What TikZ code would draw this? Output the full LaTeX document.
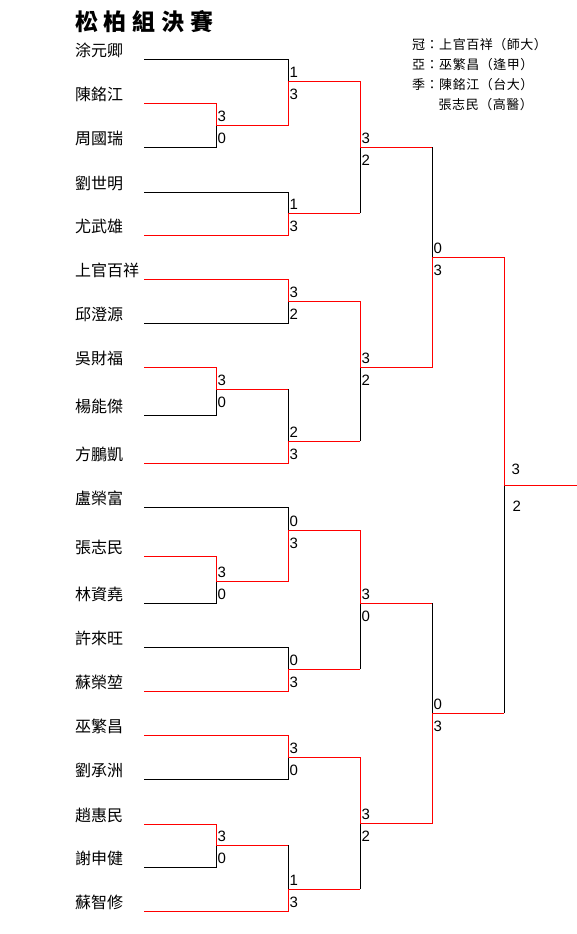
\documentclass[tikz,border=0pt]{standalone}
\usepackage{fontspec}
\usetikzlibrary{positioning}
\newfontfamily\namefont{Noto Sans CJK TC}
\newfontfamily\titlefont[LetterSpace=25]{Noto Sans CJK TC}
\newfontfamily\resultfont[LetterSpace=4]{Noto Sans CJK TC}
\newfontfamily\scorefont{Liberation Sans}
\definecolor{WinRed}{HTML}{FF0000}

\begin{document}
\begin{tikzpicture}[x=1pt, y=-1pt,
  player/.style={anchor=south west, inner sep=0pt, text width=69pt, align=left,
    text height=12pt, text depth=2.4pt, font={\namefont\fontsize{16pt}{16pt}\selectfont}},
  winline/.style={draw=WinRed, line width=0.9pt},
  lossline/.style={draw=black, line width=0.9pt},
  score/.style={inner sep=0pt, anchor=base west, font={\scorefont\fontsize{15pt}{15pt}\selectfont}},
  sctop/.style={score, xshift=1.5pt, yshift=3.5pt},
  scbot/.style={score, xshift=1.5pt, yshift=-18.5pt}
]
  \useasboundingbox (0,0) rectangle (577,934);

  \node[anchor=west, inner sep=0pt, font={\titlefont\bfseries\fontsize{23pt}{23pt}\selectfont}]
    (title) at (75,22) {松柏組決賽};
  \node[anchor=north west, inner sep=0pt, align=left,
    font={\resultfont\fontsize{13pt}{20pt}\selectfont}] (result) at (412,38.5)
    {冠：上官百祥（師大）\\亞：巫繁昌（逢甲）\\季：陳銘江（台大）\\\hphantom{季：}張志民（高醫）};

  % players
  \node[player] (p1)  at (75,59)  {涂元卿};
  \node[player] (p2)  at (75,103) {陳銘江};
  \node[player] (p3)  at (75,147) {周國瑞};
  \node[player] (p4)  at (75,192) {劉世明};
  \node[player] (p5)  at (75,235) {尤武雄};
  \node[player] (p6)  at (75,279) {上官百祥};
  \node[player] (p7)  at (75,323) {邱澄源};
  \node[player] (p8)  at (75,367) {吳財福};
  \node[player] (p9)  at (75,415) {楊能傑};
  \node[player] (p10) at (75,463) {方鵬凱};
  \node[player] (p11) at (75,507) {盧榮富};
  \node[player] (p12) at (75,556) {張志民};
  \node[player] (p13) at (75,603) {林資堯};
  \node[player] (p14) at (75,647) {許來旺};
  \node[player] (p15) at (75,691) {蘇榮堃};
  \node[player] (p16) at (75,735) {巫繁昌};
  \node[player] (p17) at (75,779) {劉承洲};
  \node[player] (p18) at (75,824) {趙惠民};
  \node[player] (p19) at (75,867) {謝申健};
  \node[player] (p20) at (75,911) {蘇智修};

  % match points
  \coordinate (a1)  at (216,125);
  \coordinate (a2)  at (288,81);
  \coordinate (a3)  at (288,213);
  \coordinate (a4)  at (288,301);
  \coordinate (a5)  at (216,389);
  \coordinate (a6)  at (288,441);
  \coordinate (a7)  at (216,581);
  \coordinate (a8)  at (288,530);
  \coordinate (a9)  at (288,669);
  \coordinate (a10) at (288,757);
  \coordinate (a11) at (216,845);
  \coordinate (a12) at (288,889);
  \coordinate (b1)  at (360,147);
  \coordinate (b2)  at (360,367);
  \coordinate (b3)  at (360,603);
  \coordinate (b4)  at (360,823);
  \coordinate (c1)  at (432,257);
  \coordinate (c2)  at (432,713);
  \coordinate (fin) at (504,485);
  \coordinate (champ) at (577,485);

  % first rounds
  \draw[winline]  (p2.south east) -| (a1);
  \draw[lossline] (p3.south east) -| (a1);
  \draw[lossline] (p1.south east) -| (a2);
  \draw[winline]  (a1) -| (a2);
  \draw[lossline] (p4.south east) -| (a3);
  \draw[winline]  (p5.south east) -| (a3);
  \draw[winline]  (p6.south east) -| (a4);
  \draw[lossline] (p7.south east) -| (a4);
  \draw[winline]  (p8.south east) -| (a5);
  \draw[lossline] (p9.south east) -| (a5);
  \draw[winline]  (a5) -- (a5 -| a6);
  \draw[lossline] (a5 -| a6) -- (a6);
  \draw[winline]  (p10.south east) -| (a6);
  \draw[winline]  (p12.south east) -| (a7);
  \draw[lossline] (p13.south east) -| (a7);
  \draw[lossline] (p11.south east) -| (a8);
  \draw[winline]  (a7) -| (a8);
  \draw[lossline] (p14.south east) -| (a9);
  \draw[winline]  (p15.south east) -| (a9);
  \draw[winline]  (p16.south east) -| (a10);
  \draw[lossline] (p17.south east) -| (a10);
  \draw[winline]  (p18.south east) -| (a11);
  \draw[lossline] (p19.south east) -| (a11);
  \draw[winline]  (a11) -- (a11 -| a12);
  \draw[lossline] (a11 -| a12) -- (a12);
  \draw[winline]  (p20.south east) -| (a12);

  % quarter finals
  \draw[winline]  (a2) -| (b1);
  \draw[winline]  (a3) -- (a3 -| b1);
  \draw[lossline] (a3 -| b1) -- (b1);
  \draw[winline]  (a4) -| (b2);
  \draw[winline]  (a6) -- (a6 -| b2);
  \draw[lossline] (a6 -| b2) -- (b2);
  \draw[winline]  (a8) -| (b3);
  \draw[winline]  (a9) -- (a9 -| b3);
  \draw[lossline] (a9 -| b3) -- (b3);
  \draw[winline]  (a10) -| (b4);
  \draw[winline]  (a12) -- (a12 -| b4);
  \draw[lossline] (a12 -| b4) -- (b4);

  % semi finals and final
  \draw[winline]  (b1) -- (b1 -| c1);
  \draw[lossline] (b1 -| c1) -- (c1);
  \draw[winline]  (b2) -| (c1);
  \draw[winline]  (b3) -- (b3 -| c2);
  \draw[lossline] (b3 -| c2) -- (c2);
  \draw[winline]  (b4) -| (c2);
  \draw[winline]  (c1) -| (fin);
  \draw[winline]  (c2) -- (c2 -| fin);
  \draw[lossline] (c2 -| fin) -- (fin);
  \draw[winline]  (fin) -- (champ);

  % scores
  \node[sctop] (a1t)  at (a1)  {3};  \node[scbot] (a1b)  at (a1)  {0};
  \node[sctop] (a2t)  at (a2)  {1};  \node[scbot] (a2b)  at (a2)  {3};
  \node[sctop] (a3t)  at (a3)  {1};  \node[scbot] (a3b)  at (a3)  {3};
  \node[sctop] (a4t)  at (a4)  {3};  \node[scbot] (a4b)  at (a4)  {2};
  \node[sctop] (a5t)  at (a5)  {3};  \node[scbot] (a5b)  at (a5)  {0};
  \node[sctop] (a6t)  at (a6)  {2};  \node[scbot] (a6b)  at (a6)  {3};
  \node[sctop] (a7t)  at (a7)  {3};  \node[scbot] (a7b)  at (a7)  {0};
  \node[sctop] (a8t)  at (a8)  {0};  \node[scbot] (a8b)  at (a8)  {3};
  \node[sctop] (a9t)  at (a9)  {0};  \node[scbot] (a9b)  at (a9)  {3};
  \node[sctop] (a10t) at (a10) {3};  \node[scbot] (a10b) at (a10) {0};
  \node[sctop] (a11t) at (a11) {3};  \node[scbot] (a11b) at (a11) {0};
  \node[sctop] (a12t) at (a12) {1};  \node[scbot] (a12b) at (a12) {3};
  \node[sctop] (b1t)  at (b1)  {3};  \node[scbot] (b1b)  at (b1)  {2};
  \node[sctop] (b2t)  at (b2)  {3};  \node[scbot] (b2b)  at (b2)  {2};
  \node[sctop] (b3t)  at (b3)  {3};  \node[scbot] (b3b)  at (b3)  {0};
  \node[sctop] (b4t)  at (b4)  {3};  \node[scbot] (b4b)  at (b4)  {2};
  \node[sctop] (c1t)  at (c1)  {0};  \node[scbot] (c1b)  at (c1)  {3};
  \node[sctop] (c2t)  at (c2)  {0};  \node[scbot] (c2b)  at (c2)  {3};
  \node[score, xshift=7.5pt, yshift=11pt]  (fint) at (fin) {3};
  \node[score, xshift=8.5pt, yshift=-26.5pt] (finb) at (fin) {2};
\end{tikzpicture}
\end{document}
